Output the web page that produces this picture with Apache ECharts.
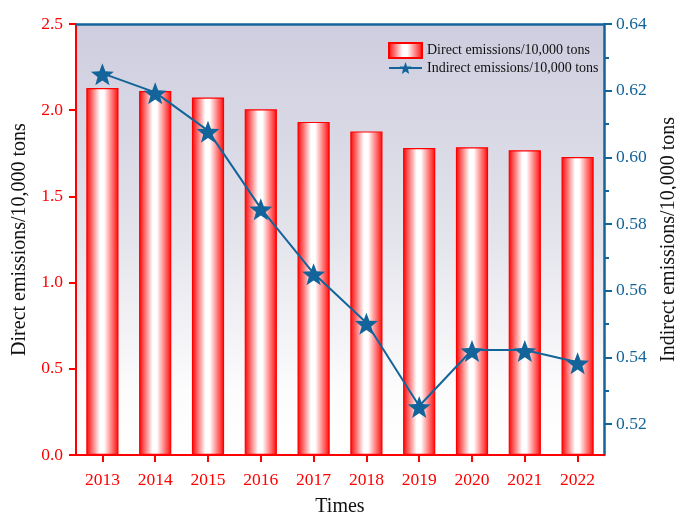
<!DOCTYPE html>
<html>
<head>
<meta charset="utf-8">
<script src="https://cdn.jsdelivr.net/npm/echarts@6/dist/echarts.min.js"></script>
<style>
  html, body { margin: 0; padding: 0; background: #ffffff; }
  #chart { width: 676px; height: 513px; }
</style>
</head>
<body>
<div id="chart"></div>
<script>
// Annual emissions, 2013-2022
const years = ['2013', '2014', '2015', '2016', '2017', '2018', '2019', '2020', '2021', '2022'];
const directEmissions = [2.129, 2.111, 2.074, 2.005, 1.932, 1.877, 1.781, 1.785, 1.768, 1.728];
const indirectEmissions = [0.6252, 0.6195, 0.6080, 0.5847, 0.5652, 0.5504, 0.5254, 0.5422, 0.5422, 0.5385];

const leftTicks = [0, 0.5, 1.0, 1.5, 2.0, 2.5];
const rightTicks = [0.52, 0.54, 0.56, 0.58, 0.60, 0.62, 0.64];
const rightMinorTicks = [0.53, 0.55, 0.57, 0.59, 0.61, 0.63];

const RED = '#ff0000';
const BLUE = '#13649a';
const FONT = '"Liberation Serif", "Times New Roman", serif';

const starPath = 'path://M100 0 L124.69 66.02 L195.11 69.1 L139.95 112.98 L158.78 180.9 L100 142 L41.22 180.9 L60.05 112.98 L4.89 69.1 L75.31 66.02 Z';

const chart = echarts.init(document.getElementById('chart'), null, { renderer: 'canvas' });

chart.setOption({
  animation: false,
  textStyle: { fontFamily: FONT },
  grid: {
    left: 76, right: 72, top: 24, bottom: 58,
    outerBoundsMode: 'none',
    containLabel: false,
    show: true,
    borderWidth: 0,
    backgroundColor: new echarts.graphic.LinearGradient(0, 0, 0, 1, [
      { offset: 0, color: '#cdcddf' },
      { offset: 0.5, color: '#e4e4ec' },
      { offset: 0.85, color: '#fcfcfd' },
      { offset: 1, color: '#ffffff' }
    ])
  },
  legend: {
    orient: 'vertical',
    left: 383, top: 37,
    itemWidth: 33, itemHeight: 15, itemGap: 2,
    textStyle: { fontFamily: FONT, fontSize: 14, color: '#111' },
    data: [
      { name: 'Direct emissions/10,000 tons', icon: 'rect' },
      { name: 'Indirect emissions/10,000 tons' }
    ]
  },
  xAxis: [{
    type: 'category',
    data: years,
    position: 'bottom',
    boundaryGap: true,
    name: 'Times',
    nameLocation: 'middle',
    nameGap: 42,
    nameTextStyle: { fontFamily: FONT, fontSize: 20, color: '#111' },
    axisLine: { show: true, lineStyle: { color: RED, width: 2 } },
    axisTick: { show: true, alignWithLabel: true, length: 7, lineStyle: { color: RED, width: 2 } },
    axisLabel: { color: RED, fontFamily: FONT, fontSize: 17.5, margin: 16 },
    splitLine: { show: false }
  }, {
    type: 'category',
    data: years,
    position: 'top',
    axisLine: { show: true, lineStyle: { color: BLUE, width: 2.5 } },
    axisTick: { show: false },
    axisLabel: { show: false },
    splitLine: { show: false }
  }],
  yAxis: [{
    type: 'value',
    position: 'left',
    min: 0, max: 2.5, interval: 0.5,
    name: 'Direct emissions/10,000 tons',
    nameLocation: 'middle',
    nameGap: 34,
    nameTextStyle: { fontFamily: FONT, fontSize: 20, color: '#111' },
    axisLine: { show: true, lineStyle: { color: RED, width: 2 } },
    axisTick: { show: true, length: 7, lineStyle: { color: RED, width: 2 } },
    axisLabel: {
      color: RED, fontFamily: FONT, fontSize: 17.5, margin: 13,
      formatter: v => v.toFixed(1)
    },
    splitLine: { show: false }
  }, {
    type: 'value',
    position: 'right',
    min: 0.5107, max: 0.64,
    name: 'Indirect emissions/10,000 tons',
    nameLocation: 'middle',
    nameGap: 55,
    nameRotate: 90,
    nameTextStyle: { fontFamily: FONT, fontSize: 20, color: '#111' },
    axisLine: { show: true, onZero: false, lineStyle: { color: BLUE, width: 2.5 } },
    axisTick: { show: true, length: 8, customValues: rightTicks, lineStyle: { color: BLUE, width: 2 } },
    axisLabel: {
      color: BLUE, fontFamily: FONT, fontSize: 17.5, margin: 12,
      customValues: rightTicks,
      formatter: v => v.toFixed(2)
    },
    splitLine: { show: false }
  }, {
    type: 'value',
    position: 'right',
    min: 0.5107, max: 0.64,
    axisLine: { show: false },
    axisTick: { show: true, length: 5, customValues: rightMinorTicks, lineStyle: { color: BLUE, width: 2 } },
    axisLabel: { show: false },
    splitLine: { show: false }
  }],
  series: [{
    name: 'Direct emissions/10,000 tons',
    type: 'bar',
    xAxisIndex: 0,
    yAxisIndex: 0,
    data: directEmissions,
    barWidth: '61%',
    itemStyle: {
      color: new echarts.graphic.LinearGradient(0, 0, 1, 0, [
        { offset: 0, color: '#ff0000' },
        { offset: 0.12, color: '#ff4a4a' },
        { offset: 0.42, color: '#ffffff' },
        { offset: 0.55, color: '#ffffff' },
        { offset: 0.88, color: '#ff4a4a' },
        { offset: 1, color: '#ff0000' }
      ]),
      borderColor: RED,
      borderWidth: 1.2
    }
  }, {
    name: 'Indirect emissions/10,000 tons',
    type: 'line',
    xAxisIndex: 0,
    yAxisIndex: 1,
    data: indirectEmissions,
    symbol: starPath,
    symbolSize: [23, 22],
    symbolOffset: [0, 1],
    showAllSymbol: true,
    lineStyle: { color: BLUE, width: 2 },
    itemStyle: { color: BLUE, borderWidth: 0 },
    z: 5
  }]
});
</script>
</body>
</html>
